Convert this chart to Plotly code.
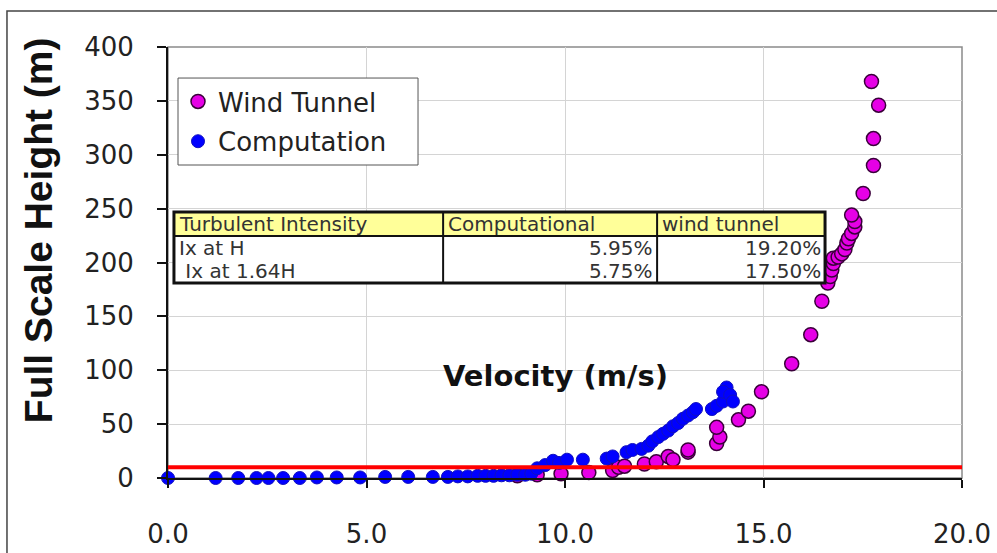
import plotly.graph_objects as go

# ---------------- data ----------------
wind_tunnel_v = [8.8, 9.3, 9.9, 10.6, 11.2, 11.35, 11.5, 12.0, 12.3, 12.6, 12.72, 13.1, 13.1,
                 13.82, 13.9, 13.82, 14.37, 14.62, 14.95, 15.71, 16.19, 16.47, 16.62, 16.68,
                 16.72, 16.76, 16.76, 16.88, 16.97, 17.05, 17.1, 17.14, 17.22, 17.3, 17.3,
                 17.22, 17.51, 17.77, 17.77, 17.9, 17.72]
wind_tunnel_h = [2, 3, 4, 5, 7, 10, 11, 13, 15, 20, 17, 24, 26,
                 32, 38, 47, 54, 62, 80, 106, 133, 164, 181, 187,
                 193, 199, 204, 205, 208, 212, 218, 222, 227, 233, 238,
                 244, 264, 290, 315, 346, 368]

computation_v = [0.0, 1.2, 1.77, 2.23, 2.53, 2.9, 3.32, 3.75, 4.25, 4.84, 5.47, 6.05, 6.67,
                 7.05, 7.3, 7.55, 7.8, 8.0, 8.2, 8.4, 8.6, 8.8, 9.0, 9.15, 9.3, 9.5, 9.7,
                 9.85, 10.05, 10.45, 11.05, 11.2, 11.55, 11.7, 11.93, 12.1, 12.2, 12.35,
                 12.47, 12.6, 12.72, 12.85, 12.97, 13.1, 13.22, 13.3, 13.7, 13.82, 13.98,
                 14.07, 13.98, 14.16, 14.23]
computation_h = [0, 0, 0, 0, 0, 0, 0, 0.5, 0.5, 0.5, 1, 1, 1,
                 1, 1.5, 1.5, 2, 2, 2, 2.5, 2.5, 3, 3, 4, 9, 12, 16,
                 14, 17, 17, 18, 20, 24, 26, 27, 30, 34, 38,
                 41, 44, 48, 51, 55, 58, 61, 64, 64, 67, 71,
                 84, 80, 77, 71]

reference_v = [0, 20]
reference_h = [10, 10]

x_ticks = [0, 5, 10, 15, 20]
x_tick_text = ["0.0", "5.0", "10.0", "15.0", "20.0"]
y_ticks = [0, 50, 100, 150, 200, 250, 300, 350, 400]

table_header = ["Turbulent Intensity", "Computational", "wind tunnel"]
table_rows = [["Ix at H", "5.95%", "19.20%"],
              [" Ix at 1.64H", "5.75%", "17.50%"]]

# ---------------- figure ----------------
TICK_FONT = dict(family="DejaVu Sans", size=26, color="#222222")

fig = go.Figure()
fig.add_trace(go.Scatter(
    x=wind_tunnel_v, y=wind_tunnel_h, mode="markers", name="Wind Tunnel",
    legendgroup="wt",
    marker=dict(size=14, color="#E600E6", line=dict(color="#3a003a", width=1.5)),
    cliponaxis=False))
fig.add_trace(go.Scatter(
    x=computation_v, y=computation_h, mode="markers", name="Computation",
    legendgroup="cp",
    marker=dict(size=13, color="#0000FF", line=dict(color="#1010C0", width=1)),
    cliponaxis=False))
fig.add_trace(go.Scatter(
    x=reference_v, y=reference_h, mode="lines", showlegend=False,
    line=dict(color="#FF0000", width=4)))

# table (column edges and row edges in data units)
col_x = [0.15, 6.93, 12.32, 16.55]
row_y = [246.9, 224.6, 203.2, 181.0]
shapes = []
# plot-area frame (gray top/right)
shapes.append(dict(type="rect", xref="paper", yref="paper", x0=0, x1=1, y0=0, y1=1,
                   line=dict(color="#8a8a8a", width=1.5), layer="below"))
# outer image frame
shapes.append(dict(type="rect", xref="paper", yref="paper", x0=-0.2028, x1=1.07,
                   y0=-0.22, y1=1.0835, line=dict(color="#444444", width=1.5)))
# legend box
shapes.append(dict(type="rect", xref="paper", yref="paper", x0=0.0126, x1=0.3149,
                   y0=0.7262, y1=0.928, fillcolor="white",
                   line=dict(color="#555555", width=1)))
# table fills
shapes.append(dict(type="rect", xref="x", yref="y", x0=col_x[0], x1=col_x[3],
                   y0=row_y[1], y1=row_y[0], fillcolor="#FFFF99", line=dict(width=0)))
shapes.append(dict(type="rect", xref="x", yref="y", x0=col_x[0], x1=col_x[3],
                   y0=row_y[3], y1=row_y[1], fillcolor="#FFFFFF", line=dict(width=0)))
# internal lines
shapes.append(dict(type="line", xref="x", yref="y", x0=col_x[0], x1=col_x[3],
                   y0=row_y[1], y1=row_y[1], line=dict(color="#111111", width=2)))
for cx in col_x[1:3]:
    shapes.append(dict(type="line", xref="x", yref="y", x0=cx, x1=cx,
                       y0=row_y[3], y1=row_y[0], line=dict(color="#111111", width=2)))
# outer border
shapes.append(dict(type="rect", xref="x", yref="y", x0=col_x[0], x1=col_x[3],
                   y0=row_y[3], y1=row_y[0], line=dict(color="#111111", width=3)))

annotations = []
TABLE_FONT = dict(family="DejaVu Sans", size=20, color="#333333")
for j, txt in enumerate(table_header):
    annotations.append(dict(x=col_x[j] + 0.08, y=(row_y[0] + row_y[1]) / 2, xref="x", yref="y",
                            text=txt, showarrow=False, xanchor="left", yanchor="middle",
                            font=TABLE_FONT))
for i, row in enumerate(table_rows):
    yc = (row_y[i + 1] + row_y[i + 2]) / 2
    label = row[0]
    if label.startswith(" "):
        label = "&nbsp;" + label[1:]
    annotations.append(dict(x=col_x[0] + 0.08, y=yc, xref="x", yref="y",
                            text=label, showarrow=False, xanchor="left", yanchor="middle",
                            font=TABLE_FONT))
    for j in (1, 2):
        annotations.append(dict(x=col_x[j + 1] - 0.06, y=yc, xref="x", yref="y",
                                text=row[j], showarrow=False, xanchor="right",
                                yanchor="middle", font=TABLE_FONT))

# axis titles as annotations
annotations.append(dict(x=9.77, y=94.5, xref="x", yref="y", text="<b>Velocity (m/s)</b>",
                        showarrow=False, xanchor="center", yanchor="middle",
                        font=dict(family="DejaVu Sans", size=29, color="#111111")))
annotations.append(dict(x=-0.1637, y=0.575, xref="paper", yref="paper",
                        text="<b>Full Scale Height (m)</b>", textangle=-90,
                        showarrow=False, xanchor="center", yanchor="middle",
                        font=dict(family="Liberation Sans, Arial", size=39, color="#111111")))

fig.update_layout(
    width=997, height=553,
    margin=dict(l=168, r=35, t=47, b=75, autoexpand=False),
    paper_bgcolor="white", plot_bgcolor="white",
    shapes=shapes, annotations=annotations,
    legend=dict(x=0.0126, y=0.928, xanchor="left", yanchor="top",
                bgcolor="rgba(0,0,0,0)", borderwidth=0,
                font=dict(family="DejaVu Sans", size=26, color="#222222"),
                tracegroupgap=3, itemwidth=30),
    xaxis=dict(range=[0, 20], tickvals=x_ticks, ticktext=x_tick_text,
               showgrid=True, gridcolor="#d4d4d4", gridwidth=1,
               showline=True, linecolor="#111111", linewidth=2,
               ticks="outside", ticklen=8, tickcolor="#111111", tickwidth=1.5,
               tickfont=TICK_FONT, ticklabelstandoff=24, zeroline=False,
               automargin=False),
    yaxis=dict(range=[0, 400], tickvals=y_ticks,
               showgrid=True, gridcolor="#d4d4d4", gridwidth=1,
               showline=True, linecolor="#111111", linewidth=2,
               ticks="outside", ticklen=9, tickcolor="#111111", tickwidth=1.5,
               tickfont=TICK_FONT, ticklabelstandoff=18, zeroline=False,
               automargin=False),
)

fig.write_html("out.html", post_script="document.body.style.margin='0';",
               config={"displayModeBar": False})
